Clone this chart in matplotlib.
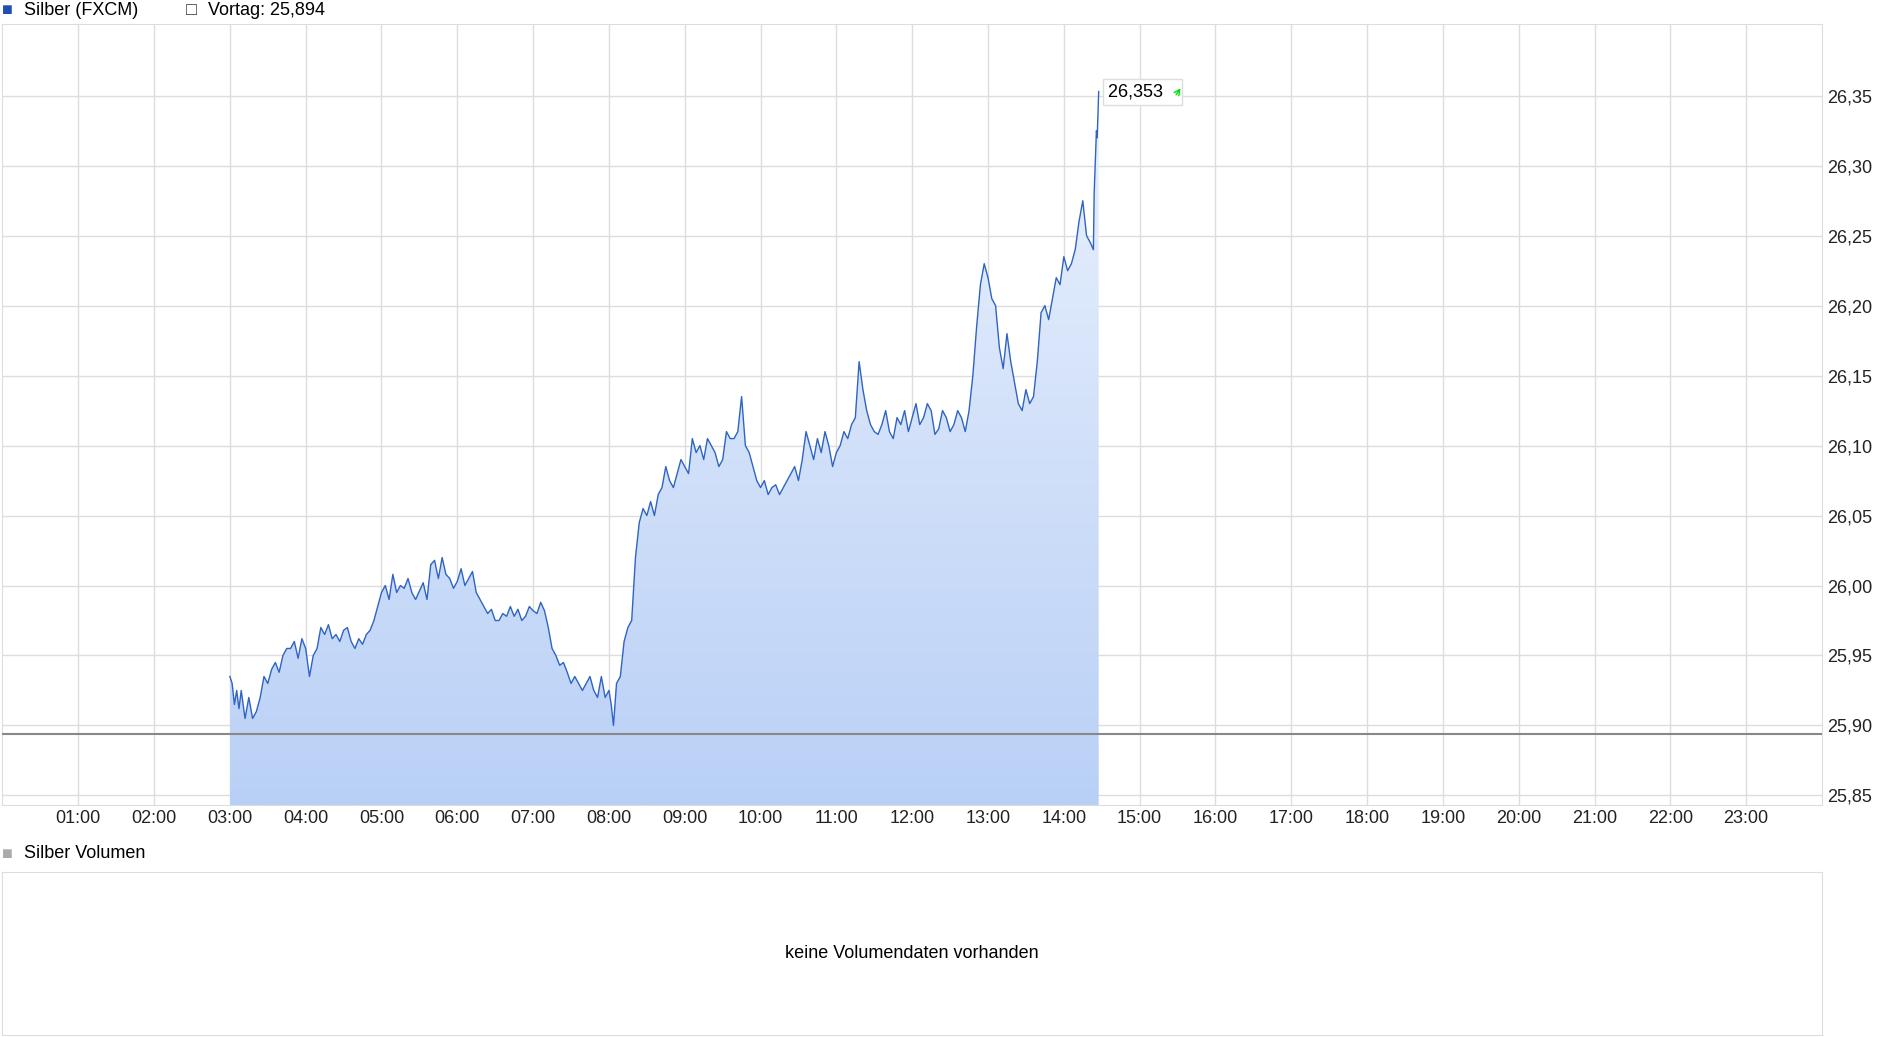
import matplotlib
matplotlib.use("Agg")
import matplotlib.pyplot as plt
import numpy as np
from matplotlib.patches import Polygon
from matplotlib.colors import LinearSegmentedColormap
plt.rcParams['font.family']=['Liberation Sans','DejaVu Sans']

hours = [3.00,3.03,3.06,3.09,3.12,3.15,3.2,3.25,3.3,3.35,3.4,3.45,3.5,3.55,3.6,3.65,3.7,3.75,3.8,3.85,3.9,3.95,4.0,4.05,4.1,4.15,4.2,4.25,4.3,4.35,4.4,4.45,4.5,4.55,4.6,4.65,4.7,4.75,4.8,4.85,4.9,4.95,5.0,5.05,5.1,5.15,5.2,5.25,5.3,5.35,5.4,5.45,5.5,5.55,5.6,5.65,5.7,5.75,5.8,5.85,5.9,5.95,6.0,6.05,6.1,6.15,6.2,6.25,6.3,6.35,6.4,6.45,6.5,6.55,6.6,6.65,6.7,6.75,6.8,6.85,6.9,6.95,7.0,7.05,7.1,7.15,7.2,7.25,7.3,7.35,7.4,7.45,7.5,7.55,7.6,7.65,7.7,7.75,7.8,7.85,7.9,7.95,8.0,8.03,8.06,8.1,8.15,8.2,8.25,8.3,8.35,8.4,8.45,8.5,8.55,8.6,8.65,8.7,8.75,8.8,8.85,8.9,8.95,9.0,9.05,9.1,9.15,9.2,9.25,9.3,9.35,9.4,9.45,9.5,9.55,9.6,9.65,9.7,9.75,9.8,9.85,9.9,9.95,10.0,10.05,10.1,10.15,10.2,10.25,10.3,10.35,10.4,10.45,10.5,10.55,10.6,10.65,10.7,10.75,10.8,10.85,10.9,10.95,11.0,11.05,11.1,11.15,11.2,11.25,11.3,11.35,11.4,11.45,11.5,11.55,11.6,11.65,11.7,11.75,11.8,11.85,11.9,11.95,12.0,12.05,12.1,12.15,12.2,12.25,12.3,12.35,12.4,12.45,12.5,12.55,12.6,12.65,12.7,12.75,12.8,12.85,12.9,12.95,13.0,13.05,13.1,13.15,13.2,13.25,13.3,13.35,13.4,13.45,13.5,13.55,13.6,13.65,13.7,13.75,13.8,13.85,13.9,13.95,14.0,14.05,14.1,14.15,14.2,14.25,14.3,14.35,14.39,14.4,14.41,14.43,14.44,14.46]
prices = [25.935,25.93,25.915,25.925,25.912,25.925,25.905,25.92,25.905,25.91,25.92,25.935,25.93,25.94,25.945,25.938,25.95,25.955,25.955,25.96,25.948,25.962,25.955,25.935,25.95,25.955,25.97,25.965,25.972,25.962,25.965,25.96,25.968,25.97,25.96,25.955,25.962,25.958,25.965,25.968,25.975,25.985,25.995,26.0,25.99,26.008,25.995,26.0,25.998,26.005,25.995,25.99,25.996,26.002,25.99,26.015,26.018,26.005,26.02,26.008,26.005,25.998,26.003,26.012,26.0,26.005,26.01,25.995,25.99,25.985,25.98,25.983,25.975,25.975,25.98,25.978,25.985,25.978,25.983,25.975,25.978,25.985,25.982,25.98,25.988,25.982,25.97,25.955,25.95,25.943,25.945,25.938,25.93,25.935,25.93,25.925,25.93,25.935,25.925,25.92,25.935,25.92,25.925,25.915,25.9,25.93,25.935,25.96,25.97,25.975,26.02,26.045,26.055,26.05,26.06,26.05,26.065,26.07,26.085,26.075,26.07,26.08,26.09,26.085,26.08,26.105,26.095,26.1,26.09,26.105,26.1,26.095,26.085,26.09,26.11,26.105,26.105,26.11,26.135,26.1,26.095,26.085,26.075,26.07,26.075,26.065,26.07,26.072,26.065,26.07,26.075,26.08,26.085,26.075,26.09,26.11,26.1,26.09,26.105,26.095,26.11,26.1,26.085,26.095,26.1,26.11,26.105,26.115,26.12,26.16,26.14,26.125,26.115,26.11,26.108,26.115,26.125,26.11,26.105,26.12,26.115,26.125,26.11,26.12,26.13,26.115,26.12,26.13,26.125,26.108,26.112,26.125,26.12,26.11,26.115,26.125,26.12,26.11,26.125,26.15,26.185,26.215,26.23,26.22,26.205,26.2,26.17,26.155,26.18,26.16,26.145,26.13,26.125,26.14,26.13,26.135,26.16,26.195,26.2,26.19,26.205,26.22,26.215,26.235,26.225,26.23,26.24,26.26,26.275,26.25,26.245,26.24,26.28,26.295,26.325,26.32,26.353]
vortag = 25.894
yticks = [25.85,25.90,25.95,26.00,26.05,26.10,26.15,26.20,26.25,26.30,26.35]
xticks = list(range(1,24))
n = min(len(hours),len(prices))
hours, prices = hours[:n], prices[:n]

W,H = 1880,1037
fig = plt.figure(figsize=(W/100,H/100),dpi=100)
sx = 1880/1555; sy = 1037/850
def rect(l,t,r,b):
    return [l*sx/W, 1-b*sy/H, (r-l)*sx/W, (b-t)*sy/H]
ax = fig.add_axes(rect(2,20,1507,660))
ax.set_xlim(0,24); ax.set_ylim(25.843,26.401)
grid='#dddddd'
for x in xticks: ax.axvline(x,color=grid,lw=1,zorder=0)
for y in yticks: ax.axhline(y,color=grid,lw=1,zorder=0)
poly = Polygon(list(zip(hours,prices))+[(hours[-1],25.843),(hours[0],25.843)],closed=True,facecolor='none',edgecolor='none')
ax.add_patch(poly)
grad = np.linspace(0,1,256).reshape(-1,1)
cm = LinearSegmentedColormap.from_list('g',['#b9d0f6','#eaf1fd'])
im = ax.imshow(grad,extent=[hours[0],hours[-1],25.843,max(prices)],origin='lower',cmap=cm,aspect='auto',zorder=1)
im.set_clip_path(poly)
ax.plot(hours,prices,color='#2f64c2',lw=1,zorder=3)
ax.axhline(vortag,color='#888888',lw=1.5,zorder=4)
ax.set_xticks(xticks); ax.set_xticklabels([f"{h:02d}:00" for h in xticks])
ax.set_yticks(yticks); ax.set_yticklabels([f"{v:.2f}".replace('.',',') for v in yticks])
ax.yaxis.tick_right()
ax.tick_params(length=0,labelsize=13,colors='#222222')
ax.tick_params(axis='y',pad=4)
for s in ax.spines.values(): s.set_color('#dddddd')
ax.text(hours[-1]+0.12,prices[-1],"26,353   ",fontsize=13,va='center',ha='left',
        bbox=dict(boxstyle='square,pad=0.25',fc='white',ec='#dddddd'),zorder=6)
ax.annotate('',xy=(hours[-1]+1.1,prices[-1]+0.004),xytext=(hours[-1]+1.0,prices[-1]-0.004),
            arrowprops=dict(arrowstyle='->',color='#00dd00',lw=1),zorder=7)
fig.text(2*sx/W,1-9*sy/H,"■",color='#1f4fb0',fontsize=13,va='center')
fig.text(20*sx/W,1-9*sy/H,"Silber (FXCM)",fontsize=13,va='center')
fig.text(154*sx/W,1-9*sy/H,"□",color='#333333',fontsize=13,va='center')
fig.text(172*sx/W,1-9*sy/H,"Vortag: 25,894",fontsize=13,va='center')
fig.text(2*sx/W,1-700*sy/H,"■",color='#aaaaaa',fontsize=13,va='center')
fig.text(20*sx/W,1-700*sy/H,"Silber Volumen",fontsize=13,va='center')
ax2 = fig.add_axes(rect(2,715,1507,848))
ax2.set_xticks([]); ax2.set_yticks([])
for s in ax2.spines.values(): s.set_color('#dddddd')
ax2.text(0.5,0.5,"keine Volumendaten vorhanden",ha='center',va='center',fontsize=13,transform=ax2.transAxes)
fig.savefig('out.png',dpi=100)
